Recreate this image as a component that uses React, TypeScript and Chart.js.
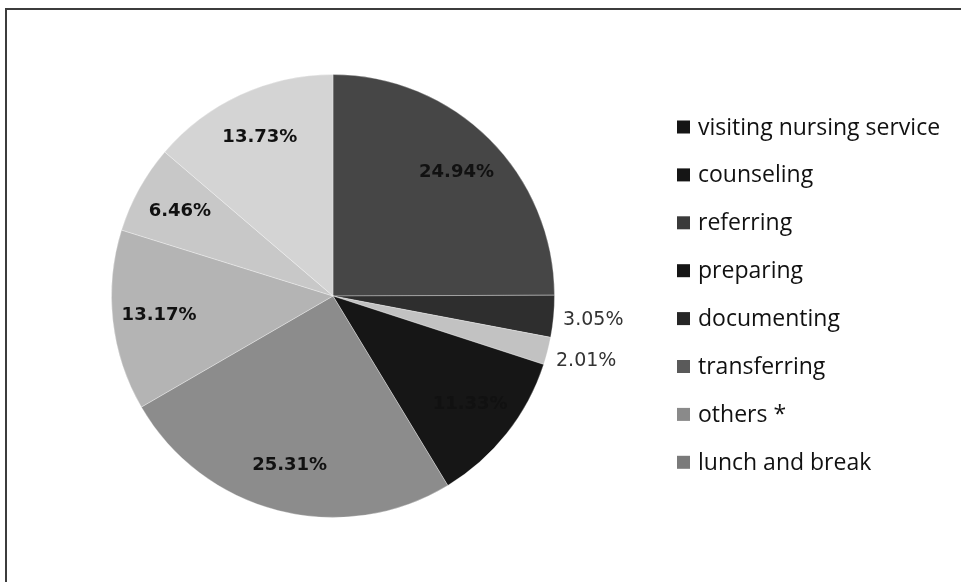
import React, { useEffect, useRef } from "react";
import { Chart, registerables } from "chart.js";

Chart.register(...registerables);

const categories = [
  "visiting nursing service",
  "counseling",
  "referring",
  "preparing",
  "documenting",
  "transferring",
  "others *",
  "lunch and break",
];
const shares = [24.94, 3.05, 2.01, 11.33, 25.31, 13.17, 6.46, 13.73];
const sliceColors = ["#464646", "#2e2e2e", "#c2c2c2", "#161616", "#8c8c8c", "#b4b4b4", "#c8c8c8", "#d4d4d4"];
const swatchColors = ["#151515", "#151515", "#3a3a3a", "#151515", "#262626", "#5a5a5a", "#8a8a8a", "#7a7a7a"];

const sliceLabelPlugin = {
  id: "sliceLabels",
  afterDatasetsDraw(chart: any) {
    const ctx = chart.ctx;
    const meta = chart.getDatasetMeta(0);
    const data = chart.data.datasets[0].data as number[];
    ctx.save();
    meta.data.forEach((arc: any, i: number) => {
      const p = arc.getProps(["x", "y", "startAngle", "endAngle", "outerRadius"], true);
      const mid = (p.startAngle + p.endAngle) / 2;
      const v = data[i];
      const outside = v < 5;
      const r = p.outerRadius * (outside ? 1.18 : 0.79);
      const x = p.x + Math.cos(mid) * r;
      const y = p.y + Math.sin(mid) * r;
      ctx.font = outside ? "19px 'DejaVu Sans'" : "bold 18px 'DejaVu Sans'";
      ctx.fillStyle = outside ? "#333333" : "#111111";
      ctx.textAlign = "center";
      ctx.textBaseline = "middle";
      ctx.fillText(v.toFixed(2) + "%", x, y);
    });
    ctx.restore();
  },
};

const legendPlugin = {
  id: "sideLegend",
  afterDraw(chart: any) {
    const ctx = chart.ctx;
    const labels = chart.data.labels as string[];
    const x0 = 677;
    const y0 = 127;
    const step = 47.9;
    ctx.save();
    ctx.font = "23px 'Open Sans'";
    ctx.textAlign = "left";
    ctx.textBaseline = "middle";
    labels.forEach((lab, i) => {
      const y = y0 + i * step;
      ctx.fillStyle = swatchColors[i];
      ctx.fillRect(x0, y - 6.5, 13, 13);
      ctx.fillStyle = "#111111";
      ctx.fillText(lab, x0 + 21, y + 1);
    });
    ctx.restore();
  },
};

export default function App() {
  const ref = useRef<HTMLCanvasElement | null>(null);
  useEffect(() => {
    if (!ref.current) return;
    const chart = new Chart(ref.current, {
      type: "pie",
      data: {
        labels: categories,
        datasets: [
          {
            data: shares,
            backgroundColor: sliceColors,
            borderColor: "rgba(255,255,255,0.3)",
            borderWidth: 1,
          },
        ],
      },
      options: {
        responsive: false,
        animation: false,
        devicePixelRatio: 1,
        layout: { padding: { left: 111, top: 74, right: 406, bottom: 64 } },
        plugins: {
          legend: { display: false },
          tooltip: { enabled: false },
        },
      },
      plugins: [sliceLabelPlugin, legendPlugin],
    });
    return () => chart.destroy();
  }, []);

  return (
    <div
      style={{
        position: "fixed",
        left: 0,
        top: 0,
        width: 961,
        height: 582,
        background: "#ffffff",
        overflow: "hidden",
      }}
    >
      <canvas ref={ref} width={961} height={582} style={{ position: "absolute", left: 0, top: 0 }} />
      <div
        style={{
          position: "absolute",
          left: 5,
          top: 8,
          width: 980,
          height: 600,
          borderLeft: "2px solid #3c3c3c",
          borderTop: "2px solid #3c3c3c",
          boxSizing: "border-box",
          pointerEvents: "none",
        }}
      />
    </div>
  );
}
